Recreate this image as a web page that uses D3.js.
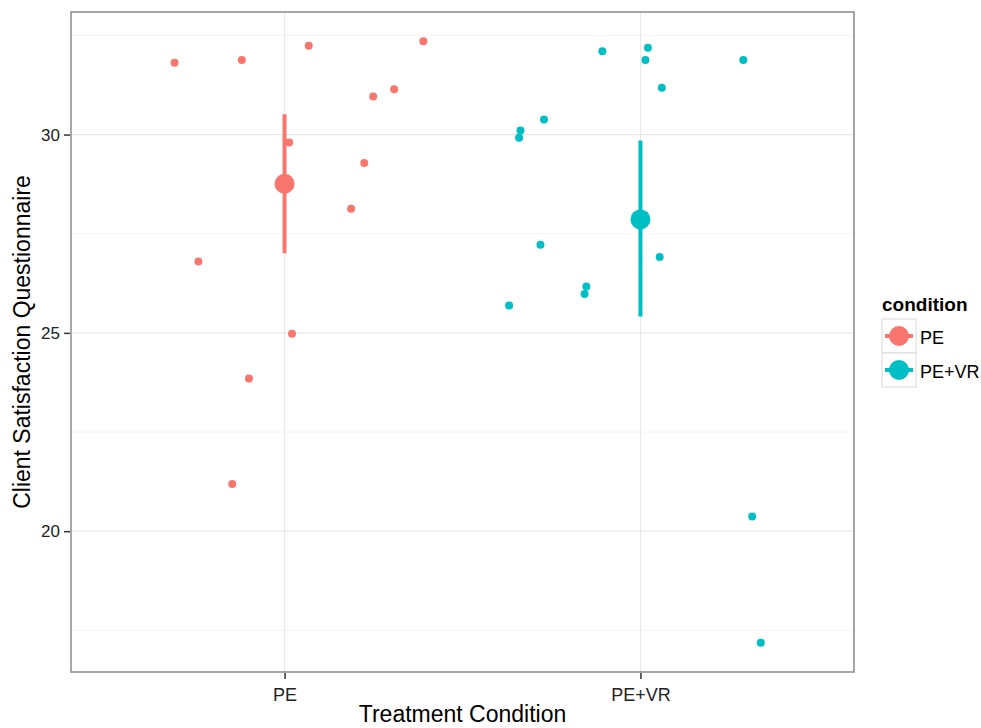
<!DOCTYPE html>
<html>
<head>
<meta charset="utf-8">
<script src="https://cdn.jsdelivr.net/npm/d3@7"></script>
<style>
  body { margin: 0; background: #fff; }
  svg text { font-family: "Liberation Sans", Arial, sans-serif; }
</style>
</head>
<body>
<div id="chart"></div>
<script>
// categories and colours
const conditions = ['PE', 'PE+VR'];
const colors = ['#F8766D', '#00BFC4'];

// jittered individual scores: x offset from category centre, y score
const peJitter = [-0.309, -0.12, 0.068, 0.39, 0.249, 0.308, 0.013, 0.224, 0.187, -0.242, 0.021, -0.10, -0.147];
const peScores = [31.81, 31.88, 32.24, 32.35, 30.96, 31.14, 29.8, 29.28, 28.13, 26.8, 24.98, 23.85, 21.19];
const vrJitter = [-0.107, 0.021, 0.014, 0.289, 0.06, -0.271, -0.337, -0.341, -0.281, 0.054, -0.152, -0.157, -0.369, 0.314, 0.338];
const vrScores = [32.1, 32.19, 31.88, 31.88, 31.18, 30.38, 30.1, 29.92, 27.22, 26.91, 26.17, 25.98, 25.69, 20.37, 17.19];

// summary (mean with interval) per condition
const means = [28.76, 27.86];
const lower = [27.01, 25.41];
const upper = [30.51, 29.85];

const yTicks = [20, 25, 30];
const yMinor = [17.5, 22.5, 27.5, 32.5];

const width = 981, height = 728;
const margin = { top: 12, right: 127, bottom: 56, left: 71 };

const svg = d3.select('#chart').append('svg')
    .attr('width', width)
    .attr('height', height);

const x = d3.scaleLinear()
    .domain([0.4, 2.6])
    .range([margin.left, width - margin.right]);

const y = d3.scaleLinear()
    .domain([16.45, 33.09])
    .range([height - margin.bottom, margin.top]);

const plot = svg.append('g');

// grid
plot.selectAll('line.minor')
    .data(yMinor)
    .enter().append('line')
    .attr('x1', x.range()[0]).attr('x2', x.range()[1])
    .attr('y1', d => y(d)).attr('y2', d => y(d))
    .attr('stroke', '#f4f4f4').attr('stroke-width', 1);

plot.selectAll('line.major')
    .data(yTicks)
    .enter().append('line')
    .attr('x1', x.range()[0]).attr('x2', x.range()[1])
    .attr('y1', d => y(d)).attr('y2', d => y(d))
    .attr('stroke', '#e8e8e8').attr('stroke-width', 1.2);

plot.selectAll('line.vgrid')
    .data(conditions)
    .enter().append('line')
    .attr('x1', (d, i) => x(i + 1)).attr('x2', (d, i) => x(i + 1))
    .attr('y1', y.range()[0]).attr('y2', y.range()[1])
    .attr('stroke', '#e8e8e8').attr('stroke-width', 1.2);

// raw points
const points = [];
peScores.forEach((v, i) => points.push({ x: 1 + peJitter[i], y: v, c: 0 }));
vrScores.forEach((v, i) => points.push({ x: 2 + vrJitter[i], y: v, c: 1 }));

plot.selectAll('circle.pt')
    .data(points)
    .enter().append('circle')
    .attr('cx', d => x(d.x))
    .attr('cy', d => y(d.y))
    .attr('r', 4)
    .attr('fill', d => colors[d.c]);

// point ranges
conditions.forEach((c, i) => {
    plot.append('line')
        .attr('x1', x(i + 1)).attr('x2', x(i + 1))
        .attr('y1', y(lower[i])).attr('y2', y(upper[i]))
        .attr('stroke', colors[i]).attr('stroke-width', 4);
    plot.append('circle')
        .attr('cx', x(i + 1)).attr('cy', y(means[i]))
        .attr('r', 10).attr('fill', colors[i]);
});

// panel border
plot.append('rect')
    .attr('x', x.range()[0]).attr('y', y.range()[1])
    .attr('width', x.range()[1] - x.range()[0])
    .attr('height', y.range()[0] - y.range()[1])
    .attr('fill', 'none').attr('stroke', '#8a8a8a').attr('stroke-width', 1.5);

// y axis
const yAxis = svg.append('g')
    .attr('transform', `translate(${margin.left - 1},0)`)
    .call(d3.axisLeft(y).tickValues(yTicks).tickSize(6).tickPadding(4));
yAxis.select('.domain').remove();
yAxis.selectAll('line').attr('stroke', '#333').attr('stroke-width', 1.5);
yAxis.selectAll('text').attr('font-size', 17).attr('fill', '#222');

// x axis
const xAxis = svg.append('g')
    .attr('transform', `translate(0,${height - margin.bottom + 1})`)
    .call(d3.axisBottom(x).tickValues([1, 2]).tickFormat(d => conditions[d - 1]).tickSize(6).tickPadding(9));
xAxis.select('.domain').remove();
xAxis.selectAll('line').attr('stroke', '#333').attr('stroke-width', 1.5);
xAxis.selectAll('text').attr('font-size', 18).attr('fill', '#222');

// axis titles
svg.append('text')
    .attr('x', (x.range()[0] + x.range()[1]) / 2)
    .attr('y', 722)
    .attr('text-anchor', 'middle')
    .attr('font-size', 23)
    .text('Treatment Condition');

svg.append('text')
    .attr('transform', `translate(30,${(y.range()[0] + y.range()[1]) / 2}) rotate(-90)`)
    .attr('text-anchor', 'middle')
    .attr('font-size', 23)
    .text('Client Satisfaction Questionnaire');

// legend
const legend = svg.append('g').attr('transform', 'translate(882,319)');
legend.append('text')
    .attr('x', 0).attr('y', -8)
    .attr('font-size', 19).attr('font-weight', 'bold')
    .text('condition');

conditions.forEach((c, i) => {
    const g = legend.append('g').attr('transform', `translate(0,${i * 34})`);
    g.append('rect')
        .attr('width', 34).attr('height', 34)
        .attr('fill', '#fff').attr('stroke', '#d9d9d9').attr('stroke-width', 1);
    g.append('line')
        .attr('x1', 3).attr('x2', 31).attr('y1', 17).attr('y2', 17)
        .attr('stroke', colors[i]).attr('stroke-width', 4);
    g.append('circle')
        .attr('cx', 17).attr('cy', 17).attr('r', 10).attr('fill', colors[i]);
    g.append('text')
        .attr('x', 38).attr('y', 25)
        .attr('font-size', 18)
        .text(c);
});
</script>
</body>
</html>
